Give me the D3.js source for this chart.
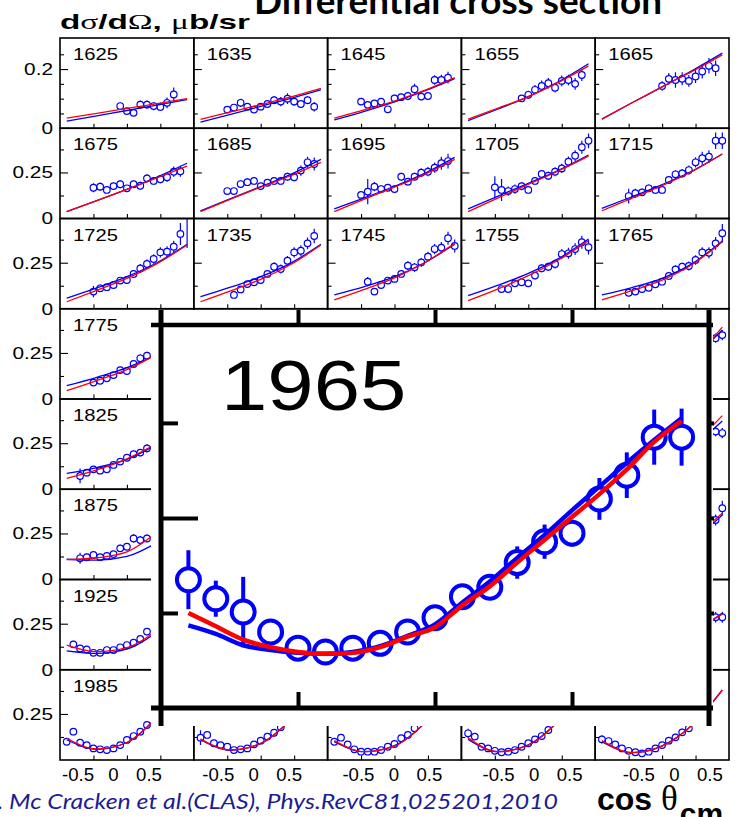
<!DOCTYPE html>
<html>
<head>
<meta charset="utf-8">
<script src="https://cdn.jsdelivr.net/npm/d3@7"></script>
<style>
  body { margin: 0; background: #fff; }
  svg { display: block; }
</style>
</head>
<body>
<svg id="fig" width="744" height="817"></svg>
<script>
'use strict';

// photon energies (MeV) of the 8 x 5 grid, row by row
const energies = [
  1625, 1635, 1645, 1655, 1665,
  1675, 1685, 1695, 1705, 1715,
  1725, 1735, 1745, 1755, 1765,
  1775, 1785, 1795, 1805, 1815,
  1825, 1835, 1845, 1855, 1865,
  1875, 1885, 1895, 1905, 1915,
  1925, 1935, 1945, 1955, 1965,
  1985, 1995, 2005, 2015, 2025
];
const zoomed = 1965;

// cos(theta_cm) bin centres used by the measurements
const cosBins = [-0.9, -0.8, -0.7, -0.6, -0.5, -0.4, -0.3, -0.2, -0.1, 0,
                 0.1, 0.2, 0.3, 0.4, 0.5, 0.6, 0.7, 0.8, 0.9];
// cos values where the model curves were read
const curveCos = [-0.9, -0.45, 0, 0.45, 0.9];
const cosTicks = [-0.5, 0, 0.5];

// measurements: index of the first bin, cross sections (mub/sr), errors
const obs1625 = { first: 8, y: [0.075, 0.058, 0.052, 0.080, 0.080, 0.075, 0.072, 0.086, 0.114],
  e: [0.012, 0.010, 0.010, 0.014, 0.014, 0.014, 0.014, 0.018, 0.024] };
const obs1635 = { first: 4, y: [0.063, 0.070, 0.086, 0.073, 0.063, 0.073, 0.082, 0.095, 0.090, 0.100, 0.090, 0.082, 0.095, 0.073],
  e: [0.010, 0.012, 0.014, 0.010, 0.010, 0.012, 0.012, 0.014, 0.016, 0.018, 0.014, 0.012, 0.014, 0.016] };
const obs1645 = { first: 4, y: [0.090, 0.079, 0.084, 0.090, 0.064, 0.101, 0.105, 0.109, 0.132, 0.107, 0.109, 0.163, 0.163, 0.171],
  e: [0.012, 0.010, 0.010, 0.012, 0.010, 0.012, 0.012, 0.014, 0.018, 0.012, 0.012, 0.016, 0.018, 0.020] };
const obs1655 = { first: 8, y: [0.101, 0.113, 0.130, 0.143, 0.152, 0.137, 0.160, 0.163, 0.150, 0.180],
  e: [0.010, 0.014, 0.016, 0.018, 0.018, 0.016, 0.018, 0.018, 0.020, 0.020] };
const obs1665 = { first: 9, y: [0.143, 0.167, 0.163, 0.167, 0.160, 0.175, 0.192, 0.211, 0.203],
  e: [0.016, 0.020, 0.026, 0.022, 0.020, 0.022, 0.024, 0.026, 0.026] };

const obs1675 = { first: 4, y: [0.167, 0.173, 0.155, 0.176, 0.186, 0.164, 0.186, 0.178, 0.218, 0.204, 0.213, 0.224, 0.254, 0.256],
  e: [0.025, 0.022, 0.018, 0.020, 0.022, 0.018, 0.020, 0.022, 0.022, 0.020, 0.022, 0.024, 0.028, 0.030] };
const obs1685 = { first: 4, y: [0.149, 0.149, 0.187, 0.197, 0.204, 0.176, 0.194, 0.204, 0.204, 0.227, 0.224, 0.260, 0.305, 0.296],
  e: [0.018, 0.018, 0.020, 0.020, 0.020, 0.018, 0.018, 0.020, 0.020, 0.022, 0.022, 0.028, 0.030, 0.035] };
const obs1695 = { first: 4, y: [0.128, 0.146, 0.173, 0.160, 0.167, 0.160, 0.227, 0.200, 0.227, 0.249, 0.254, 0.276, 0.300, 0.312],
  e: [0.018, 0.068, 0.025, 0.020, 0.018, 0.020, 0.022, 0.020, 0.022, 0.024, 0.025, 0.028, 0.035, 0.040] };
const obs1705 = { first: 4, y: [0.169, 0.155, 0.149, 0.160, 0.176, 0.155, 0.204, 0.242, 0.232, 0.254, 0.272, 0.308, 0.341, 0.387, 0.422],
  e: [0.060, 0.060, 0.025, 0.025, 0.022, 0.018, 0.020, 0.022, 0.022, 0.024, 0.025, 0.028, 0.030, 0.035, 0.040] };
const obs1715 = { first: 4, y: [0.122, 0.137, 0.142, 0.164, 0.155, 0.155, 0.209, 0.240, 0.245, 0.263, 0.305, 0.327, 0.336, 0.422, 0.422],
  e: [0.040, 0.025, 0.020, 0.020, 0.020, 0.018, 0.020, 0.022, 0.024, 0.025, 0.028, 0.035, 0.035, 0.045, 0.045] };

const obs1725 = { first: 4, y: [0.093, 0.111, 0.117, 0.129, 0.153, 0.156, 0.189, 0.219, 0.243, 0.270, 0.306, 0.310, 0.337, 0.406, 0.560],
  e: [0.030, 0.020, 0.018, 0.018, 0.018, 0.020, 0.022, 0.024, 0.024, 0.026, 0.028, 0.030, 0.032, 0.060, 0.230] };
const obs1735 = { first: 5, y: [0.075, 0.105, 0.134, 0.144, 0.156, 0.189, 0.228, 0.216, 0.261, 0.306, 0.315, 0.355, 0.395],
  e: [0.018, 0.018, 0.018, 0.018, 0.018, 0.020, 0.024, 0.024, 0.026, 0.028, 0.030, 0.032, 0.040] };
const obs1745 = { first: 5, y: [0.147, 0.093, 0.129, 0.153, 0.162, 0.189, 0.234, 0.225, 0.252, 0.283, 0.324, 0.332, 0.383, 0.341],
  e: [0.025, 0.018, 0.018, 0.018, 0.018, 0.020, 0.024, 0.024, 0.024, 0.026, 0.028, 0.030, 0.035, 0.035] };
const obs1755 = { first: 5, y: [0.107, 0.107, 0.138, 0.144, 0.138, 0.180, 0.220, 0.228, 0.243, 0.297, 0.301, 0.324, 0.361, 0.334],
  e: [0.018, 0.018, 0.018, 0.018, 0.018, 0.020, 0.022, 0.022, 0.024, 0.028, 0.030, 0.032, 0.035, 0.040] };
const obs1765 = { first: 4, y: [0.087, 0.093, 0.107, 0.114, 0.133, 0.147, 0.178, 0.214, 0.228, 0.232, 0.265, 0.306, 0.304, 0.355, 0.410],
  e: [0.018, 0.018, 0.018, 0.018, 0.018, 0.018, 0.020, 0.022, 0.022, 0.024, 0.026, 0.028, 0.030, 0.035, 0.050] };

const obs1775 = { first: 4, y: [0.089, 0.099, 0.112, 0.130, 0.157, 0.152, 0.190, 0.221, 0.235],
  e: [0.018, 0.018, 0.018, 0.018, 0.020, 0.020, 0.020, 0.022, 0.022] };
const obs1815 = { first: 17, y: [0.330, 0.347], e: [0.025, 0.028] };
const obs1825 = { first: 2, y: [0.072, 0.090, 0.108, 0.101, 0.108, 0.132, 0.150, 0.171, 0.190, 0.199, 0.222],
  e: [0.040, 0.020, 0.018, 0.018, 0.018, 0.018, 0.018, 0.020, 0.020, 0.020, 0.022] };
const obs1865 = { first: 17, y: [0.313, 0.305], e: [0.025, 0.028] };
const obs1875 = { first: 2, y: [0.115, 0.121, 0.133, 0.121, 0.128, 0.138, 0.169, 0.178, 0.223, 0.214, 0.223],
  e: [0.030, 0.022, 0.018, 0.018, 0.018, 0.018, 0.020, 0.020, 0.024, 0.022, 0.022] };
const obs1915 = { first: 17, y: [0.323, 0.387], e: [0.030, 0.040] };
const obs1925 = { first: 1, y: [0.138, 0.116, 0.110, 0.092, 0.092, 0.107, 0.107, 0.122, 0.134, 0.147, 0.167, 0.207],
  e: [0.020, 0.018, 0.018, 0.018, 0.018, 0.018, 0.018, 0.018, 0.018, 0.018, 0.020, 0.020] };
const obs1965 = { first: 0, y: [0.135, 0.115, 0.101, 0.080, 0.063, 0.059, 0.063, 0.068, 0.080, 0.095,
                                0.117, 0.127, 0.153, 0.175, 0.184, 0.220, 0.245, 0.285, 0.285],
  e: [0.031, 0.019, 0.037, 0.005, 0.005, 0.005, 0.005, 0.005, 0.006, 0.007,
      0.008, 0.010, 0.017, 0.018, 0.014, 0.022, 0.024, 0.029, 0.030] };
const obs1985 = { first: 0, y: [0.099, 0.154, 0.094, 0.081, 0.063, 0.058, 0.054, 0.063, 0.081, 0.109, 0.130, 0.154, 0.190],
  e: [0.018, 0.018, 0.018, 0.018, 0.018, 0.018, 0.018, 0.018, 0.018, 0.018, 0.018, 0.020, 0.020] };
const obs1995 = { first: 0, y: [0.121, 0.136, 0.091, 0.081, 0.072, 0.054, 0.058, 0.063, 0.085, 0.105, 0.127, 0.148, 0.178],
  e: [0.040, 0.018, 0.018, 0.018, 0.018, 0.018, 0.018, 0.018, 0.018, 0.018, 0.018, 0.020, 0.020] };
const obs2005 = { first: 0, y: [0.099, 0.121, 0.085, 0.058, 0.045, 0.045, 0.045, 0.054, 0.072, 0.087, 0.118, 0.136, 0.172],
  e: [0.018, 0.018, 0.018, 0.018, 0.018, 0.018, 0.018, 0.018, 0.018, 0.018, 0.018, 0.020, 0.020] };
const obs2015 = { first: 0, y: [0.145, 0.127, 0.072, 0.063, 0.050, 0.042, 0.045, 0.054, 0.072, 0.091, 0.112, 0.130, 0.163],
  e: [0.025, 0.018, 0.018, 0.018, 0.018, 0.018, 0.018, 0.018, 0.018, 0.018, 0.018, 0.020, 0.020] };
const obs2025 = { first: 0, y: [0.112, 0.103, 0.085, 0.063, 0.050, 0.042, 0.036, 0.045, 0.063, 0.081, 0.105, 0.123, 0.150, 0.172],
  e: [0.022, 0.018, 0.018, 0.018, 0.018, 0.018, 0.018, 0.018, 0.018, 0.018, 0.018, 0.020, 0.020, 0.020] };

// model curves read at curveCos (red and blue)
const red1625 = [0.034, 0.050, 0.067, 0.083, 0.100], blue1625 = [0.024, 0.042, 0.060, 0.078, 0.097];
const red1635 = [0.030, 0.055, 0.080, 0.106, 0.135], blue1635 = [0.021, 0.047, 0.074, 0.101, 0.130];
const red1645 = [0.034, 0.062, 0.092, 0.128, 0.171], blue1645 = [0.028, 0.057, 0.089, 0.126, 0.168];
const red1655 = [0.031, 0.068, 0.107, 0.155, 0.211], blue1655 = [0.026, 0.065, 0.107, 0.157, 0.218];
const red1665 = [0.031, 0.086, 0.140, 0.192, 0.248], blue1665 = [0.031, 0.086, 0.140, 0.195, 0.254];
const red1675 = [0.037, 0.097, 0.158, 0.220, 0.285], blue1675 = [0.037, 0.097, 0.158, 0.225, 0.300];
const red1685 = [0.037, 0.105, 0.170, 0.232, 0.305], blue1685 = [0.041, 0.108, 0.173, 0.240, 0.321];
const red1695 = [0.037, 0.105, 0.170, 0.240, 0.321], blue1695 = [0.052, 0.112, 0.175, 0.245, 0.332];
const red1705 = [0.037, 0.112, 0.185, 0.258, 0.339], blue1705 = [0.052, 0.122, 0.191, 0.262, 0.345];
const red1715 = [0.042, 0.110, 0.178, 0.255, 0.350], blue1715 = [0.055, 0.118, 0.184, 0.258, 0.350];
const red1725 = [0.038, 0.100, 0.165, 0.245, 0.346], blue1725 = [0.057, 0.113, 0.174, 0.250, 0.350];
const red1735 = [0.038, 0.097, 0.160, 0.240, 0.346], blue1735 = [0.065, 0.117, 0.174, 0.248, 0.350];
const red1745 = [0.048, 0.105, 0.168, 0.250, 0.355], blue1745 = [0.075, 0.120, 0.174, 0.250, 0.350];
const red1755 = [0.044, 0.108, 0.180, 0.265, 0.370], blue1755 = [0.071, 0.128, 0.192, 0.272, 0.379];
const red1765 = [0.048, 0.098, 0.155, 0.240, 0.364], blue1765 = [0.075, 0.115, 0.165, 0.245, 0.368];
const red1775 = [0.045, 0.100, 0.160, 0.245, 0.360], blue1775 = [0.072, 0.118, 0.170, 0.245, 0.355];
const red1815 = [0.050, 0.090, 0.140, 0.220, 0.390], blue1815 = [0.070, 0.110, 0.160, 0.230, 0.375];
const red1825 = [0.059, 0.105, 0.165, 0.250, 0.360], blue1825 = [0.086, 0.118, 0.162, 0.245, 0.350];
const red1865 = [0.060, 0.080, 0.130, 0.240, 0.400], blue1865 = [0.070, 0.090, 0.130, 0.230, 0.370];
const red1875 = [0.108, 0.118, 0.150, 0.255, 0.380], blue1875 = [0.110, 0.105, 0.125, 0.200, 0.310];
const red1915 = [0.100, 0.100, 0.140, 0.230, 0.360], blue1915 = [0.100, 0.090, 0.120, 0.210, 0.350];
const red1925 = [0.134, 0.098, 0.120, 0.215, 0.360], blue1925 = [0.103, 0.089, 0.112, 0.205, 0.350];
const red1985 = [0.118, 0.060, 0.095, 0.235, 0.450], blue1985 = [0.110, 0.058, 0.095, 0.235, 0.450];
const red1995 = [0.115, 0.055, 0.090, 0.220, 0.420], blue1995 = [0.110, 0.053, 0.090, 0.220, 0.420];
const red2005 = [0.105, 0.045, 0.075, 0.200, 0.400], blue2005 = [0.100, 0.045, 0.078, 0.200, 0.400];
const red2015 = [0.120, 0.045, 0.080, 0.210, 0.400], blue2015 = [0.112, 0.045, 0.082, 0.210, 0.400];
const red2025 = [0.105, 0.040, 0.075, 0.190, 0.380], blue2025 = [0.100, 0.040, 0.077, 0.190, 0.380];
// the zoomed 1965 panel was read finer, at every cosBins value
const red1965 = [0.100, 0.086, 0.072, 0.064, 0.059, 0.057, 0.058, 0.064, 0.075, 0.085,
                 0.108, 0.128, 0.153, 0.177, 0.201, 0.225, 0.251, 0.280, 0.302];
const blue1965 = [0.087, 0.078, 0.066, 0.061, 0.058, 0.057, 0.059, 0.065, 0.076, 0.088,
                  0.111, 0.133, 0.158, 0.182, 0.208, 0.233, 0.258, 0.282, 0.305];

// lookup tables built from the arrays above
const observed = {
  1625: obs1625, 1635: obs1635, 1645: obs1645, 1655: obs1655, 1665: obs1665,
  1675: obs1675, 1685: obs1685, 1695: obs1695, 1705: obs1705, 1715: obs1715,
  1725: obs1725, 1735: obs1735, 1745: obs1745, 1755: obs1755, 1765: obs1765,
  1775: obs1775, 1815: obs1815, 1825: obs1825, 1865: obs1865, 1875: obs1875,
  1915: obs1915, 1925: obs1925, 1965: obs1965,
  1985: obs1985, 1995: obs1995, 2005: obs2005, 2015: obs2015, 2025: obs2025
};
const fits = {
  1625: [red1625, blue1625], 1635: [red1635, blue1635], 1645: [red1645, blue1645],
  1655: [red1655, blue1655], 1665: [red1665, blue1665], 1675: [red1675, blue1675],
  1685: [red1685, blue1685], 1695: [red1695, blue1695], 1705: [red1705, blue1705],
  1715: [red1715, blue1715], 1725: [red1725, blue1725], 1735: [red1735, blue1735],
  1745: [red1745, blue1745], 1755: [red1755, blue1755], 1765: [red1765, blue1765],
  1775: [red1775, blue1775], 1815: [red1815, blue1815], 1825: [red1825, blue1825],
  1865: [red1865, blue1865], 1875: [red1875, blue1875], 1915: [red1915, blue1915],
  1925: [red1925, blue1925], 1965: [red1965, blue1965], 1985: [red1985, blue1985],
  1995: [red1995, blue1995], 2005: [red2005, blue2005], 2015: [red2015, blue2015],
  2025: [red2025, blue2025]
};

const svg = d3.select('#fig');
const FONT = '"Liberation Sans", Arial, Helvetica, sans-serif';
const BLUE = '#0000ff', RED = '#ff0000';

// grid geometry
const gridLeft = 60, gridTop = 38, colW = 133.8, rowH = 90.25;
// white box of the enlarged panel, pasted over the grid
const box = { x0: 151, y0: 310, x1: 713, y1: 726 };

function points(o) {
  return o.y.map((v, k) => ({ c: cosBins[o.first + k], v: v, e: o.e[k] }));
}

// circles with error bars that stop at the marker edge
function drawPoints(g, o, x, y, r, w) {
  const pts = points(o);
  const bars = g.append('g').attr('stroke', BLUE).attr('stroke-width', w);
  pts.forEach(p => {
    const cy = y(p.v);
    if (y(p.v - p.e) > cy + r) {
      bars.append('line').attr('x1', x(p.c)).attr('x2', x(p.c))
        .attr('y1', cy + r).attr('y2', y(p.v - p.e));
    }
    if (y(p.v + p.e) < cy - r) {
      bars.append('line').attr('x1', x(p.c)).attr('x2', x(p.c))
        .attr('y1', cy - r).attr('y2', y(p.v + p.e));
    }
  });
  g.append('g').selectAll('circle').data(pts).enter().append('circle')
    .attr('cx', d => x(d.c)).attr('cy', d => y(d.v)).attr('r', r)
    .attr('fill', 'none').attr('stroke', BLUE).attr('stroke-width', w);
}

function drawFits(g, en, x, y, w) {
  const f = fits[en];
  if (!f) return;
  const nodes = f[0].length === cosBins.length ? cosBins : curveCos;
  const line = d3.line().x((d, k) => x(nodes[k])).y(d => y(d)).curve(d3.curveMonotoneX);
  g.append('path').datum(f[1]).attr('d', line)
    .attr('fill', 'none').attr('stroke', BLUE).attr('stroke-width', w);
  g.append('path').datum(f[0]).attr('d', line)
    .attr('fill', 'none').attr('stroke', RED).attr('stroke-width', w);
}

// stretched Helvetica-like label, as in the (widened) original figure
function label(g, txt, px, py, size, sx, anchor) {
  g.append('text')
    .attr('transform', `translate(${px},${py}) scale(${sx},1)`)
    .attr('text-anchor', anchor || 'start')
    .attr('font-family', FONT).attr('font-size', size)
    .text(txt);
}

function drawPanel(i, en) {
  const row = Math.floor(i / 5), col = i % 5;
  const left = gridLeft + col * colW, top = gridTop + row * rowH;
  const x = d3.scaleLinear().domain([-1, 1]).range([left, left + colW]);
  const y = d3.scaleLinear().domain([0, row === 0 ? 0.305 : 0.49]).range([top + rowH, top]);
  const g = svg.append('g');

  const clipId = 'clip' + en;
  g.append('clipPath').attr('id', clipId).append('rect')
    .attr('x', left).attr('y', top).attr('width', colW).attr('height', rowH);

  const minor = row === 0 ? [0.05, 0.1, 0.15, 0.25] : [0.125, 0.375];
  const major = row === 0 ? [0.2] : [0.25];
  const noLine = s => s.select('.domain').remove();
  g.append('g').attr('transform', `translate(${left},0)`)
    .call(d3.axisRight(y).tickValues(minor).tickSize(4).tickFormat(''))
    .call(noLine);
  g.append('g').attr('transform', `translate(${left},0)`)
    .call(d3.axisRight(y).tickValues(major).tickSize(8).tickFormat(''))
    .call(noLine);
  g.append('g').attr('transform', `translate(0,${top + rowH})`)
    .call(d3.axisTop(x).tickValues(cosTicks).tickSize(4.5).tickFormat(''))
    .call(noLine);
  g.selectAll('.tick line').attr('stroke', '#000').attr('stroke-width', 1.1);

  const body = g.append('g').attr('clip-path', `url(#${clipId})`);
  if (observed[en]) drawPoints(body, observed[en], x, y, 3.3, 1.2);
  drawFits(body, en, x, y, 1.3);

  g.append('rect').attr('x', left).attr('y', top).attr('width', colW).attr('height', rowH)
    .attr('fill', 'none').attr('stroke', '#000').attr('stroke-width', 1.6);

  // the energy label is left out when the enlarged panel hides it
  const lx = left + 13, ly = top + 22;
  const hidden = lx > box.x0 && lx < box.x1 && ly > box.y0 && ly < box.y1;
  if (!hidden) label(g, String(en), lx, ly, 16.3, 1.24);

  if (col === 0) {
    major.forEach(v => label(g, String(v), 53, y(v) + 5.8, 16, 1.3, 'end'));
    if (row < 7) label(g, '0', 53, top + rowH + 5.8, 16, 1.3, 'end');
  }
}

energies.forEach((en, i) => drawPanel(i, en));

// ---- enlarged copy of the 1965 panel ----
const ix = d3.scaleLinear().domain([-1, 1]).range([161, 709]);
const iy = d3.scaleLinear().domain([0, 0.403]).range([708, 325]);
const inset = svg.append('g');
inset.append('rect').attr('x', box.x0).attr('y', box.y0)
  .attr('width', box.x1 - box.x0).attr('height', box.y1 - box.y0)
  .attr('fill', '#fff');

drawPoints(inset, obs1965, ix, iy, 11.5, 4);
drawFits(inset, zoomed, ix, iy, 4.5);

const frame = inset.append('g').attr('stroke', '#000');
frame.append('line').attr('x1', 161).attr('x2', 161).attr('y1', box.y0).attr('y2', box.y1).attr('stroke-width', 5);
frame.append('line').attr('x1', 709).attr('x2', 709).attr('y1', box.y0).attr('y2', box.y1).attr('stroke-width', 5);
frame.append('line').attr('x1', box.x0).attr('x2', box.x1).attr('y1', 325).attr('y2', 325).attr('stroke-width', 4.5);
frame.append('line').attr('x1', box.x0).attr('x2', box.x1).attr('y1', 708).attr('y2', 708).attr('stroke-width', 5);

const thick = s => s.call(t => t.select('.domain').remove())
  .call(t => t.selectAll('.tick line').attr('stroke', '#000').attr('stroke-width', 4));
inset.append('g').attr('transform', 'translate(0,325)')
  .call(d3.axisTop(ix).tickValues(cosTicks).tickSize(15).tickFormat('')).call(thick);
inset.append('g').attr('transform', 'translate(0,708)')
  .call(d3.axisTop(ix).tickValues(cosTicks).tickSize(16).tickFormat('')).call(thick);
inset.append('g').attr('transform', 'translate(161,0)')
  .call(d3.axisRight(iy).tickValues([0.1, 0.3]).tickSize(17).tickFormat('')).call(thick);
inset.append('g').attr('transform', 'translate(161,0)')
  .call(d3.axisRight(iy).tickValues([0.2]).tickSize(37).tickFormat('')).call(thick);
inset.append('g').attr('transform', 'translate(709,0)')
  .call(d3.axisRight(iy).tickValues([0.1, 0.2, 0.3]).tickSize(5).tickFormat('')).call(thick);

label(inset, String(zoomed), 221, 410, 70, 1.19);

// ---- cos theta labels under the grid ----
for (let c = 0; c < 5; c++) {
  const mid = 113 + 140.2 * c;
  const lx = d3.scaleLinear().domain([-1, 1]).range([mid - 71, mid + 71]);
  svg.append('g').attr('transform', 'translate(0,768)')
    .call(d3.axisBottom(lx).tickValues(cosTicks).tickSize(0).tickPadding(0)
      .tickFormat(d => d === 0 ? '0' : String(d)))
    .call(s => s.select('.domain').remove())
    .call(s => s.selectAll('text').attr('font-family', FONT).attr('font-size', 18.6).attr('fill', '#000'));
}

// ---- titles ----
svg.append('text').attr('x', 254).attr('y', 14)
  .attr('font-family', 'Lato, "Open Sans", sans-serif').attr('font-weight', 700)
  .attr('font-size', 36).attr('textLength', 408).attr('lengthAdjust', 'spacingAndGlyphs')
  .text('Differential cross section');

const yt = svg.append('text').attr('x', 60).attr('y', 29)
  .attr('font-family', FONT).attr('font-weight', 700).attr('font-size', 21)
  .attr('textLength', 190).attr('lengthAdjust', 'spacingAndGlyphs');
yt.append('tspan').text('d');
yt.append('tspan').attr('font-family', '"Liberation Serif", serif').attr('font-weight', 400).text('σ');
yt.append('tspan').text('/d');
yt.append('tspan').attr('font-family', '"Liberation Serif", serif').attr('font-weight', 400).text('Ω');
yt.append('tspan').text(', ');
yt.append('tspan').attr('font-family', '"Liberation Serif", serif').attr('font-weight', 400).text('μ');
yt.append('tspan').text('b/sr');

svg.append('text').attr('x', -24).attr('y', 809)
  .attr('font-family', 'Lato, "Open Sans", sans-serif').attr('font-style', 'italic')
  .attr('font-size', 21).attr('fill', '#1c1c96')
  .attr('textLength', 582).attr('lengthAdjust', 'spacingAndGlyphs')
  .text('M. Mc Cracken et al.(CLAS), Phys.RevC81,025201,2010');

const xt = svg.append('text').attr('x', 597).attr('y', 810)
  .attr('font-family', FONT).attr('font-weight', 700).attr('font-size', 32);
xt.append('tspan').text('cos ');
xt.append('tspan').attr('font-family', '"Liberation Serif", serif').attr('font-weight', 400)
  .attr('font-size', 35).text('θ');
xt.append('tspan').attr('font-size', 30).attr('dx', 2).attr('dy', 14).text('cm');
</script>
</body>
</html>
